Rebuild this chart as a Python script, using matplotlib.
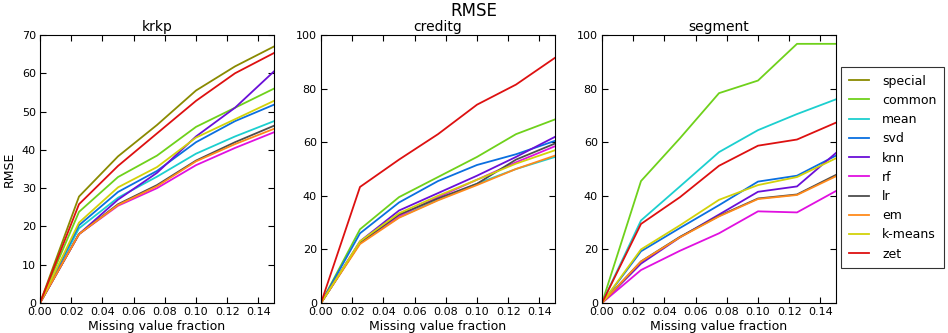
import matplotlib
matplotlib.use("Agg")
import matplotlib.pyplot as plt
import numpy as np

x = [0.0, 0.025, 0.05, 0.075, 0.1, 0.125, 0.15]
methods = ["special", "common", "mean", "svd", "knn", "rf", "lr", "em", "k-means", "zet"]
colors = ["#8a8a00", "#6fd11b", "#1ccfcf", "#0a6fe0", "#6a0fd8", "#e010e0", "#4d4d4d", "#ff8a1a", "#d2d20a", "#dd1010"]

krkp = {
    "special": [0, 27.8, 38.3, 46.5, 55.5, 61.8, 67.0],
    "common":  [0, 23.8, 32.9, 38.5, 46.0, 51.0, 56.0],
    "mean":    [0, 19.5, 27.5, 33.0, 39.0, 43.5, 47.5],
    "svd":     [0, 20.3, 29.0, 34.5, 42.0, 47.5, 51.8],
    "knn":     [0, 18.0, 27.0, 34.0, 43.5, 51.0, 60.5],
    "rf":      [0, 18.0, 25.4, 30.0, 36.0, 40.5, 44.6],
    "lr":      [0, 18.0, 25.8, 30.8, 37.2, 42.0, 46.3],
    "em":      [0, 18.0, 25.6, 30.5, 37.0, 41.5, 45.5],
    "k-means": [0, 21.0, 30.2, 35.5, 43.2, 48.0, 52.8],
    "zet":     [0, 25.8, 35.8, 44.3, 52.8, 60.0, 65.3],
}
creditg = {
    "common":  [0, 27.5, 39.5, 47.0, 54.5, 63.0, 68.5],
    "mean":    [0, 22.5, 32.0, 38.5, 44.5, 50.0, 54.5],
    "svd":     [0, 26.0, 37.5, 45.5, 51.5, 55.5, 60.5],
    "knn":     [0, 23.0, 34.5, 41.0, 47.5, 54.5, 62.0],
    "rf":      [0, 22.5, 32.5, 39.5, 46.0, 52.5, 58.5],
    "lr":      [0, 22.5, 33.0, 39.0, 44.5, 53.5, 59.5],
    "em":      [0, 22.0, 31.8, 38.3, 44.0, 50.0, 55.0],
    "k-means": [0, 23.0, 33.5, 40.0, 46.0, 52.0, 57.0],
    "zet":     [0, 43.3, 53.5, 63.0, 74.0, 81.5, 91.5],
}
segment = {
    "common":  [0, 45.5, 61.5, 78.3, 83.0, 96.7, 96.7],
    "mean":    [0, 30.8, 43.5, 56.3, 64.5, 70.5, 76.0],
    "svd":     [0, 19.3, 28.0, 36.5, 45.3, 47.5, 55.0],
    "knn":     [0, 14.7, 24.5, 33.0, 41.5, 43.5, 56.0],
    "rf":      [0, 12.3, 19.5, 26.0, 34.2, 33.8, 41.8],
    "lr":      [0, 15.5, 24.7, 32.5, 39.0, 40.5, 47.8],
    "em":      [0, 15.5, 24.5, 32.3, 38.8, 40.3, 47.3],
    "k-means": [0, 20.0, 29.0, 38.5, 44.0, 47.0, 54.0],
    "zet":     [0, 29.5, 39.5, 51.2, 58.7, 61.0, 67.3],
}
datasets = [("krkp", krkp, 70), ("creditg", creditg, 100), ("segment", segment, 100)]

plt.rcParams["font.family"] = "DejaVu Sans"
fig = plt.figure(figsize=(9.48, 3.33), dpi=100)
fig.patch.set_facecolor("white")
lefts = [40, 321, 602]
width = 234
bottom_px, top_px = 303, 35
H, W = 333, 948
handles = []
for i, (name, data, ymax) in enumerate(datasets):
    ax = fig.add_axes([lefts[i] / W, (H - bottom_px) / H, width / W, (bottom_px - top_px) / H])
    for m, c in zip(methods, colors):
        if m in data:
            ln, = ax.plot(x, data[m], color=c, lw=1.3, label=m)
            if i == 0:
                handles.append(ln)
    ax.set_xlim(0, 0.15)
    ax.set_ylim(0, ymax)
    ax.set_xticks(np.arange(0, 0.151, 0.02))
    ax.set_xticklabels([f"{t:.2f}" for t in np.arange(0, 0.151, 0.02)])
    if ymax == 70:
        ax.set_yticks(range(0, 71, 10))
    else:
        ax.set_yticks(range(0, 101, 20))
    ax.tick_params(direction="in", top=True, right=True, labelsize=8, length=4, width=0.8, pad=3)
    ax.set_title(name, fontsize=10, pad=3)
    ax.set_xlabel("Missing value fraction", fontsize=9, labelpad=2)
    if i == 0:
        ax.set_ylabel("RMSE", fontsize=9)
    for s in ax.spines.values():
        s.set_linewidth(0.8)

fig.suptitle("RMSE", fontsize=12, y=0.995)
leg = fig.legend(handles, methods, loc="upper left", bbox_to_anchor=(841 / W, (H - 67) / H),
                 fontsize=9, frameon=True, fancybox=False, edgecolor="black",
                 handlelength=1.6, labelspacing=0.5, borderpad=0.6, borderaxespad=0,
                 handletextpad=1.1)
leg.get_frame().set_linewidth(0.8)
fig.savefig("out.png", dpi=100, facecolor="white")
